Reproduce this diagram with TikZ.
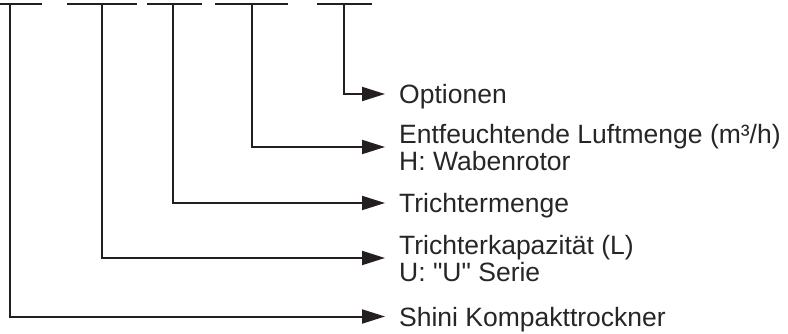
\documentclass[tikz,border=0pt]{standalone}
\usepackage{fontspec}
\setmainfont{Liberation Sans}[Ligatures=TeXOff]
\usetikzlibrary{arrows.meta}
\definecolor{ink}{HTML}{231F20}
\definecolor{txt}{HTML}{262626}
\begin{document}
\begin{tikzpicture}[x=1pt,y=-1pt,
  lbl/.style={anchor=base west, inner sep=0pt, text=txt,
    font=\fontsize{26.5}{27}\selectfont, align=left},
  bar/.style={draw=ink, line width=2pt},
  conn/.style={draw=ink, line width=2pt, -{Triangle[length=23pt,width=14pt]}}]
\useasboundingbox (0,0) rectangle (788,334);
% top bars
\draw[bar] (0,4.3) -- (41.7,4.3);
\draw[bar] (66.7,4.3) -- (136.7,4.3);
\draw[bar] (146.7,4.3) -- (201.7,4.3);
\draw[bar] (215,4.3) -- (288.3,4.3);
\draw[bar] (316.7,4.3) -- (371.7,4.3);
% tap points
\coordinate (t1) at (10,4.3);
\coordinate (t2) at (101.7,4.3);
\coordinate (t3) at (173,4.3);
\coordinate (t4) at (251.7,4.3);
\coordinate (t5) at (344.3,4.3);
% labels (base anchor of a two-line node is its last line)
\node[lbl] (opt) at (399,103.5) {Optionen};
\node[lbl] (ent) at (399,171) {Entfeuchtende Luftmenge (m³/h)\\H: Wabenrotor};
\node[lbl] (tm) at (399,212.5) {Trichtermenge};
\node[lbl] (tk) at (399,281.5) {Trichterkapazität (L)\\U: "U" Serie};
\node[lbl] (sk) at (399,326.5) {Shini Kompakttrockner};
% arrow tips
\coordinate (a5) at (385,94);
\coordinate (a4) at (385,147);
\coordinate (a3) at (385,203);
\coordinate (a2) at (385,258);
\coordinate (a1) at (385,316.5);
% connectors
\draw[conn] (t5) |- (a5);
\draw[conn] (t4) |- (a4);
\draw[conn] (t3) |- (a3);
\draw[conn] (t2) |- (a2);
\draw[conn] (t1) |- (a1);
\end{tikzpicture}
\end{document}
